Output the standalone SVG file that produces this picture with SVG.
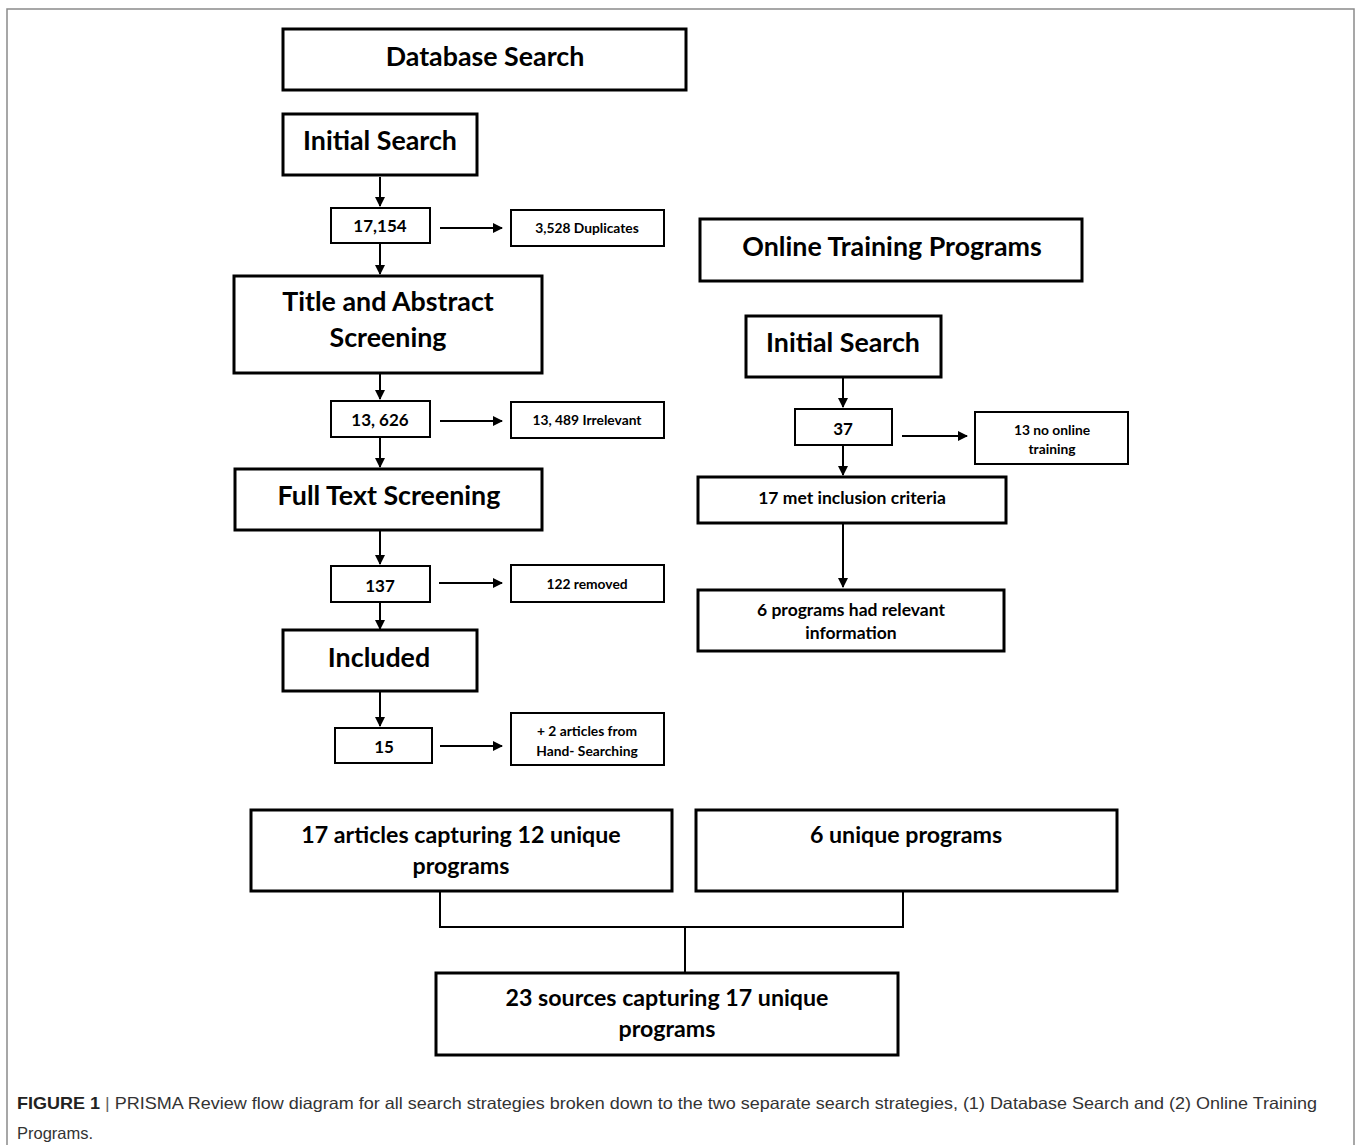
<svg xmlns="http://www.w3.org/2000/svg" width="1358" height="1145" viewBox="0 0 1358 1145">
<style>
.bx{fill:#fff;stroke:#000;stroke-width:3}
.sb{fill:#fff;stroke:#000;stroke-width:2}
.t{font-family:Lato,"Liberation Sans",sans-serif;font-weight:bold;fill:#000;text-anchor:middle}
.big{font-size:26.8px}
.mid{font-size:23.2px}
.sm{font-size:17.5px}
.num{font-size:17px}
.xs{font-size:13.8px}
.ln{stroke:#000;stroke-width:2;fill:none}
.cap{font-family:"Liberation Sans",Arial,sans-serif;font-size:16.5px;fill:#333}
</style>
<defs>
<marker id="ah" markerWidth="10" markerHeight="10" refX="9" refY="5" orient="auto" markerUnits="userSpaceOnUse">
<path d="M0,0 L10,5 L0,10 z" fill="#000"/>
</marker>
</defs>
<rect x="0" y="0" width="1358" height="1145" fill="#fff"/>
<rect id="frame" x="7" y="9" width="1347" height="1150" fill="none" stroke="#8a8a8a" stroke-width="1.5"/>

<g id="connectors">
<line class="ln" x1="380" y1="177" x2="380" y2="206" marker-end="url(#ah)"/>
<line class="ln" x1="440" y1="228" x2="502" y2="228" marker-end="url(#ah)"/>
<line class="ln" x1="380" y1="244" x2="380" y2="274" marker-end="url(#ah)"/>
<line class="ln" x1="380" y1="374" x2="380" y2="399" marker-end="url(#ah)"/>
<line class="ln" x1="440" y1="421" x2="502" y2="421" marker-end="url(#ah)"/>
<line class="ln" x1="380" y1="438" x2="380" y2="467" marker-end="url(#ah)"/>
<line class="ln" x1="380" y1="531" x2="380" y2="564" marker-end="url(#ah)"/>
<line class="ln" x1="439" y1="583" x2="502" y2="583" marker-end="url(#ah)"/>
<line class="ln" x1="380" y1="603" x2="380" y2="629" marker-end="url(#ah)"/>
<line class="ln" x1="380" y1="692" x2="380" y2="726" marker-end="url(#ah)"/>
<line class="ln" x1="440" y1="746" x2="502" y2="746" marker-end="url(#ah)"/>
<line class="ln" x1="843" y1="378" x2="843" y2="407" marker-end="url(#ah)"/>
<line class="ln" x1="902" y1="436" x2="967" y2="436" marker-end="url(#ah)"/>
<line class="ln" x1="843" y1="446" x2="843" y2="475" marker-end="url(#ah)"/>
<line class="ln" x1="843" y1="524" x2="843" y2="587" marker-end="url(#ah)"/>
<polyline class="ln" points="440,892 440,927 903,927 903,892"/>
<line class="ln" x1="685" y1="927" x2="685" y2="972"/>
</g>

<g id="db-search"><rect class="bx" x="283" y="29" width="403" height="61"/><text class="t big" x="485" y="66">Database Search</text></g>
<g id="db-initial"><rect class="bx" x="283" y="114" width="194" height="61"/><text class="t big" x="380" y="150">Initial Search</text></g>
<g id="n17154"><rect class="sb" x="331" y="208" width="99" height="35"/><text class="t num" x="380" y="232">17,154</text></g>
<g id="dup"><rect class="sb" x="511" y="210" width="153" height="36"/><text class="t xs" x="587" y="233">3,528 Duplicates</text></g>
<g id="title-abs"><rect class="bx" x="234" y="276" width="308" height="97"/><text class="t big" x="388" y="311">Title and Abstract</text><text class="t big" x="388" y="347">Screening</text></g>
<g id="n13626"><rect class="sb" x="331" y="401" width="99" height="36"/><text class="t num" x="380" y="426">13, 626</text></g>
<g id="irr"><rect class="sb" x="511" y="402" width="153" height="36"/><text class="t xs" x="587" y="425">13, 489 Irrelevant</text></g>
<g id="fulltext"><rect class="bx" x="235" y="469" width="307" height="61"/><text class="t big" x="389" y="505">Full Text Screening</text></g>
<g id="n137"><rect class="sb" x="331" y="566" width="99" height="36"/><text class="t num" x="380" y="592">137</text></g>
<g id="removed"><rect class="sb" x="511" y="565" width="153" height="37"/><text class="t xs" x="587" y="589">122 removed</text></g>
<g id="included"><rect class="bx" x="283" y="630" width="194" height="61"/><text class="t big" x="379" y="667">Included</text></g>
<g id="n15"><rect class="sb" x="335" y="728" width="97" height="35"/><text class="t num" x="384" y="753">15</text></g>
<g id="hand"><rect class="sb" x="511" y="713" width="153" height="52"/><text class="t xs" x="587" y="736">+ 2 articles from</text><text class="t xs" x="587" y="756">Hand- Searching</text></g>

<g id="otp"><rect class="bx" x="700" y="219" width="382" height="62"/><text class="t big" x="892" y="256">Online Training Programs</text></g>
<g id="otp-initial"><rect class="bx" x="746" y="316" width="195" height="61"/><text class="t big" x="843" y="352">Initial Search</text></g>
<g id="n37"><rect class="sb" x="795" y="409" width="97" height="36"/><text class="t num" x="843" y="435">37</text></g>
<g id="noonline"><rect class="sb" x="975" y="412" width="153" height="52"/><text class="t xs" x="1052" y="435">13 no online</text><text class="t xs" x="1052" y="454">training</text></g>
<g id="met"><rect class="bx" x="698" y="477" width="308" height="46"/><text class="t sm" x="852" y="504">17 met inclusion criteria</text></g>
<g id="relevant"><rect class="bx" x="698" y="590" width="306" height="61"/><text class="t sm" x="851" y="616">6 programs had relevant</text><text class="t sm" x="851" y="639">information</text></g>

<g id="articles"><rect class="bx" x="251" y="810" width="421" height="81"/><text class="t mid" x="461" y="843">17 articles capturing 12 unique</text><text class="t mid" x="461" y="874">programs</text></g>
<g id="unique6"><rect class="bx" x="696" y="810" width="421" height="81"/><text class="t mid" x="906" y="843">6 unique programs</text></g>
<g id="sources"><rect class="bx" x="436" y="973" width="462" height="82"/><text class="t mid" x="667" y="1006">23 sources capturing 17 unique</text><text class="t mid" x="667" y="1037">programs</text></g>

<g id="caption">
<text class="cap" x="17" y="1109" textLength="1300" lengthAdjust="spacingAndGlyphs"><tspan font-weight="bold" fill="#222">FIGURE 1</tspan><tspan fill="#666"> | </tspan>PRISMA Review flow diagram for all search strategies broken down to the two separate search strategies, (1) Database Search and (2) Online Training</text>
<text class="cap" x="17" y="1139">Programs.</text>
</g>
</svg>
